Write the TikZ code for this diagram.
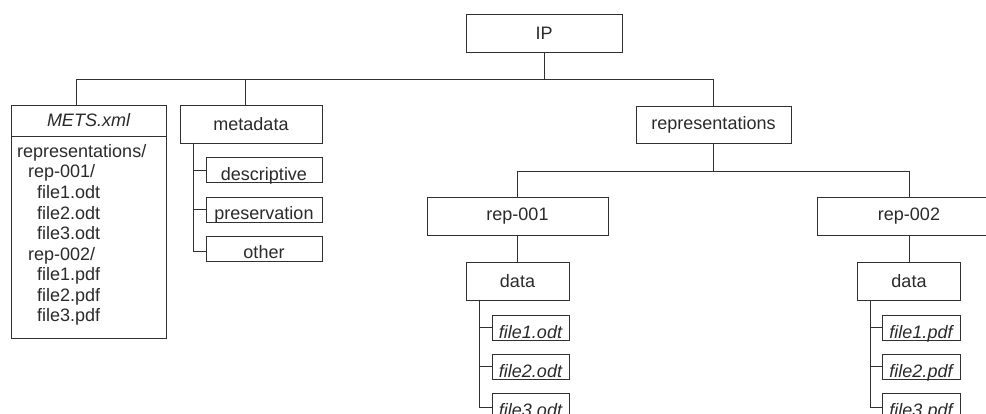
\documentclass[tikz,border=0pt]{standalone}
\usepackage{fontspec}
\setmainfont{Liberation Sans}
\usetikzlibrary{calc}
\definecolor{linec}{HTML}{303030}
\definecolor{textc}{HTML}{2a2a2a}
\newcommand\dfont{\fontsize{18}{20.6}\selectfont}
\begin{document}
\begin{tikzpicture}[x=1pt,y=-1pt,
  lc/.style={draw=linec, line width=0.9pt},
  box/.style={lc, rectangle, inner sep=0pt, text=textc, font=\dfont, minimum height=38pt},
  leaf/.style={lc, rectangle, inner sep=0pt, text=textc, font=\dfont, text depth=2pt, text height=23pt},
  fileleaf/.style={leaf, font=\dfont\itshape}]
\useasboundingbox (0,0) rectangle (986,414);
\clip (0,0) rectangle (986,414);
% nodes
\node[box, minimum width=156pt] (ip) at (544,33) {IP};
\node[box, minimum width=155pt, minimum height=31pt, font=\dfont\itshape] (mets) at (88.5,120.5) {METS.xml};
\node[lc, rectangle, inner sep=0pt, minimum width=155pt, minimum height=202pt] (metsbody) at (88.5,237) {};
\node[anchor=base west, align=left, font=\dfont, text=textc, inner sep=0pt] (metstext) at (17,322)
  {representations/\\
   \hspace*{11pt}rep-001/\\
   \hspace*{20pt}file1.odt\\
   \hspace*{20pt}file2.odt\\
   \hspace*{20pt}file3.odt\\
   \hspace*{11pt}rep-002/\\
   \hspace*{20pt}file1.pdf\\
   \hspace*{20pt}file2.pdf\\
   \hspace*{20pt}file3.pdf};
\node[box, minimum width=142pt] (metadata) at (251,124) {metadata};
\node[leaf, minimum width=116pt] (desc) at (264,170) {descriptive};
\node[leaf, minimum width=116pt] (pres) at (264,209.5) {preservation};
\node[leaf, minimum width=116pt] (other) at (264,248.5) {other};
\node[box, minimum width=155pt, minimum height=37pt] (repr) at (713.5,124.5) {representations};
\node[box, minimum width=181pt] (rep1) at (517.5,216) {rep-001};
\node[box, minimum width=184pt] (rep2) at (909,216) {rep-002};
\node[box, minimum width=103pt] (data1) at (517.5,281) {data};
\node[box, minimum width=103pt] (data2) at (909,281) {data};
\node[fileleaf, minimum width=77pt] (f11) at (530.5,327.5) {file1.odt};
\node[fileleaf, minimum width=77pt] (f12) at (530.5,366.5) {file2.odt};
\node[fileleaf, minimum width=77pt] (f13) at (530.5,405.5) {file3.odt};
\node[fileleaf, minimum width=78pt] (f21) at (921,327.5) {file1.pdf};
\node[fileleaf, minimum width=78pt] (f22) at (921,366.5) {file2.pdf};
\node[fileleaf, minimum width=78pt] (f23) at (921,405.5) {file3.pdf};
% named connector ends
\coordinate (metsin) at (76,105);
\coordinate (mdin) at (245,105);
\coordinate (mdtrunk) at (193,143);
\coordinate (d1trunk) at (479,300);
\coordinate (d2trunk) at (870,300);
% connectors
\draw[lc] (ip.south) -- ++(0,27);
\draw[lc] (metsin) -- ++(0,-26) -| (repr.north);
\draw[lc] (mdin) -- ++(0,-26);
\draw[lc] (mdtrunk) |- (desc.west);
\draw[lc] (mdtrunk) |- (pres.west);
\draw[lc] (mdtrunk) |- ([yshift=-3pt]other.west);
\draw[lc] (repr.south) -- ++(0,28);
\draw[lc] (rep1.north) |- ($(repr.south)+(0,28)$) -| (rep2.north);
\draw[lc] (rep1.south) -- (data1.north);
\draw[lc] (rep2.south) -- (data2.north);
\draw[lc] (d1trunk) |- (f11.west);
\draw[lc] (d1trunk) |- (f12.west);
\draw[lc] (d1trunk) |- ([yshift=-1.5pt]f13.west);
\draw[lc] (d2trunk) |- (f21.west);
\draw[lc] (d2trunk) |- (f22.west);
\draw[lc] (d2trunk) |- ([yshift=-1.5pt]f23.west);
\end{tikzpicture}
\end{document}
